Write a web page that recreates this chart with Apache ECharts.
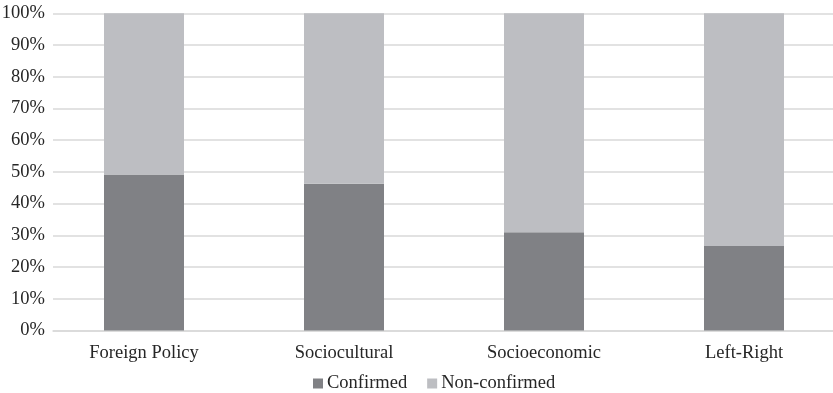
<!DOCTYPE html>
<html>
<head>
<meta charset="utf-8">
<style>
  html, body { margin: 0; padding: 0; background: #fff; }
  #chart { width: 833px; height: 393px; }
</style>
<script src="https://cdn.jsdelivr.net/npm/echarts@6/dist/echarts.min.js"></script>
</head>
<body>
<div id="chart"></div>
<script>
// Share of positions by issue dimension
const categories = ['Foreign Policy', 'Sociocultural', 'Socioeconomic', 'Left-Right'];
const confirmed = [49.2, 46.3, 31.0, 26.6];
const nonConfirmed = [50.8, 53.7, 69.0, 73.4];
const yTicks = { min: 0, max: 100, interval: 10 };

const font = 'Liberation Serif, Times New Roman, serif';
const textColor = '#262626';
const fontSize = 18.5;

const chart = echarts.init(document.getElementById('chart'));
chart.setOption({
  animation: false,
  backgroundColor: '#ffffff',
  textStyle: { fontFamily: font, color: textColor },
  legend: {
    top: 374,
    left: 313,
    itemWidth: 10,
    itemHeight: 10,
    itemGap: 20,
    icon: 'rect',
    padding: 0,
    textStyle: { fontFamily: font, fontSize: fontSize, color: textColor, padding: [0, 0, 0, -1] },
    data: ['Confirmed', 'Non-confirmed']
  },
  grid: [
    // bars: category bands extend a little past the right edge
    { left: 44, width: 800, top: 13.3, bottom: 62.5, outerBoundsMode: 'none', containLabel: false },
    // gridlines and value labels
    { left: 53, right: 0, top: 13.3, bottom: 62.5, outerBoundsMode: 'none', containLabel: false }
  ],
  xAxis: [
    {
      gridIndex: 0,
      type: 'category',
      data: categories,
      axisLine: { show: false },
      axisTick: { show: false },
      axisLabel: { fontFamily: font, fontSize: fontSize, color: textColor, margin: 13 }
    },
    {
      gridIndex: 1,
      type: 'category',
      data: categories,
      axisLine: { show: true, lineStyle: { color: '#d9d9d9', width: 1.5 } },
      axisTick: { show: false },
      axisLabel: { show: false }
    }
  ],
  yAxis: [
    {
      gridIndex: 0,
      type: 'value',
      min: yTicks.min, max: yTicks.max, interval: yTicks.interval,
      axisLabel: { show: false },
      splitLine: { show: false },
      axisLine: { show: false },
      axisTick: { show: false }
    },
    {
      gridIndex: 1,
      type: 'value',
      min: yTicks.min, max: yTicks.max, interval: yTicks.interval,
      axisLabel: {
        formatter: '{value}%',
        fontFamily: font, fontSize: fontSize, color: textColor, margin: 8
      },
      splitLine: { show: true, lineStyle: { color: '#d9d9d9', width: 1.5 } },
      axisLine: { show: false },
      axisTick: { show: false }
    }
  ],
  series: [
    {
      name: 'Confirmed',
      type: 'bar',
      stack: 'total',
      xAxisIndex: 0,
      yAxisIndex: 0,
      barWidth: 80,
      itemStyle: { color: '#808185' },
      data: confirmed
    },
    {
      name: 'Non-confirmed',
      type: 'bar',
      stack: 'total',
      xAxisIndex: 0,
      yAxisIndex: 0,
      barWidth: 80,
      itemStyle: { color: '#bdbec2' },
      data: nonConfirmed
    }
  ]
});
</script>
</body>
</html>
